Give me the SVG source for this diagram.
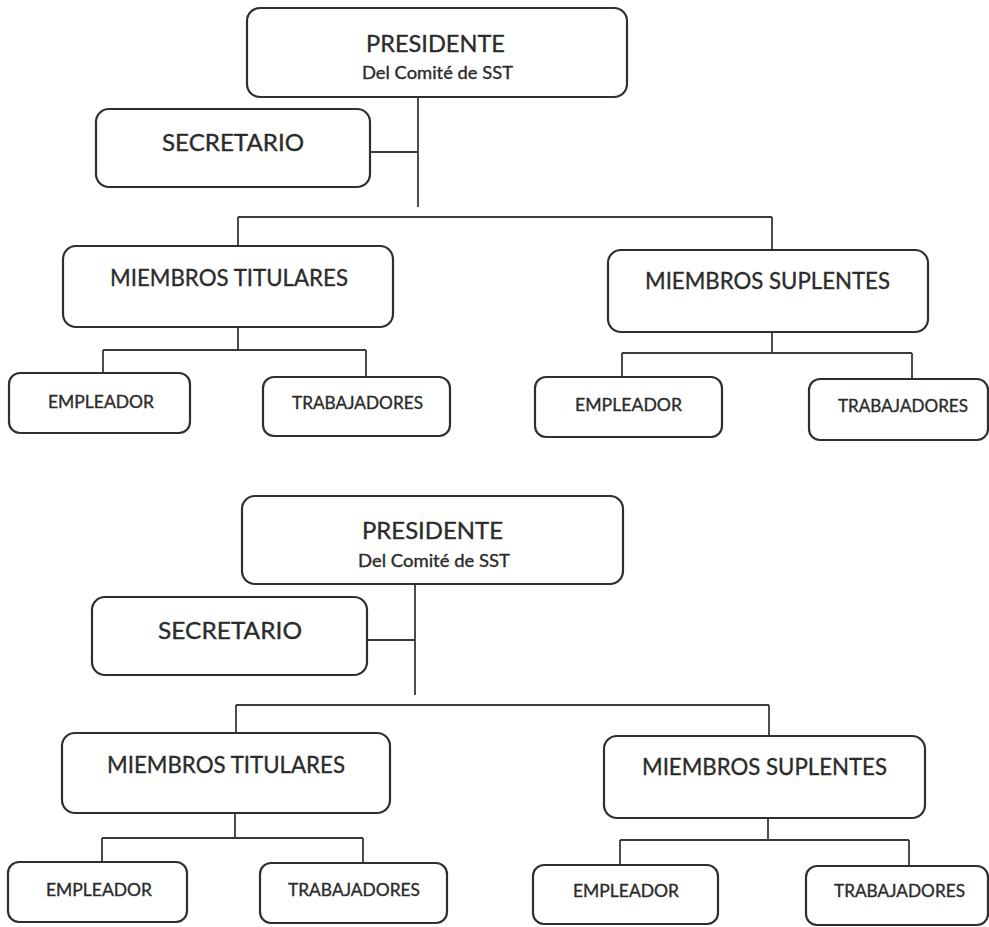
<svg xmlns="http://www.w3.org/2000/svg" width="989" height="927" viewBox="0 0 989 927">
<style>
.box{fill:#ffffff;stroke:#2f2f2f;stroke-width:2.2}
.ln{fill:none;stroke:#3a3a3a;stroke-width:1.8}
text{font-family:Lato,"Open Sans","Liberation Sans",sans-serif;fill:#2b2b2b;stroke:#2b2b2b;stroke-width:0.35;text-anchor:middle}
.big{font-size:24px}
.mid{font-size:23px}
.sm{font-size:17.5px}
</style>
<rect width="989" height="927" fill="#ffffff"/>

<g id="connectors-top">
<path class="ln" d="M370 152H418M418 97V207M238 217H772M238 217V246M772 217V250M238 327V350M103 350H366M103 350V373M366 350V377M772 332V353M622 353H912M622 353V377M912 353V379"/>
</g>
<g id="connectors-bottom">
<path class="ln" d="M367 640H415M415 584V695M236 705H769M236 705V733M769 705V736M235 813V838M102 838H363M102 838V862M363 838V863M768 818V840M620 840H909M620 840V865M909 840V866"/>
</g>

<g id="presidente-1"><rect class="box" x="247" y="8" width="380" height="89" rx="13"/>
<text class="big" x="435.5" y="52" textLength="139" lengthAdjust="spacingAndGlyphs">PRESIDENTE</text>
<text class="sm" x="437.5" y="79" textLength="151" lengthAdjust="spacingAndGlyphs">Del Comité de SST</text></g>
<g id="secretario-1"><rect class="box" x="96" y="109" width="274" height="78" rx="13"/>
<text class="mid" x="233" y="151" textLength="142" lengthAdjust="spacingAndGlyphs">SECRETARIO</text></g>
<g id="titulares-1"><rect class="box" x="63" y="246" width="330" height="81" rx="13"/>
<text class="big" x="229" y="286" textLength="238" lengthAdjust="spacingAndGlyphs">MIEMBROS TITULARES</text></g>
<g id="suplentes-1"><rect class="box" x="608" y="250" width="320" height="82" rx="13"/>
<text class="big" x="767.5" y="289" textLength="245" lengthAdjust="spacingAndGlyphs">MIEMBROS SUPLENTES</text></g>
<g id="empleador-t1"><rect class="box" x="9" y="373" width="181" height="60" rx="11"/>
<text class="sm" x="101" y="408" textLength="106" lengthAdjust="spacingAndGlyphs">EMPLEADOR</text></g>
<g id="trabajadores-t1"><rect class="box" x="263" y="377" width="187" height="59" rx="11"/>
<text class="sm" x="357.5" y="409" textLength="131" lengthAdjust="spacingAndGlyphs">TRABAJADORES</text></g>
<g id="empleador-s1"><rect class="box" x="535" y="377" width="187" height="60" rx="11"/>
<text class="sm" x="628.5" y="411" textLength="107" lengthAdjust="spacingAndGlyphs">EMPLEADOR</text></g>
<g id="trabajadores-s1"><rect class="box" x="809" y="379" width="179" height="61" rx="11"/>
<text class="sm" x="903" y="412" textLength="130" lengthAdjust="spacingAndGlyphs">TRABAJADORES</text></g>

<g id="presidente-2"><rect class="box" x="242" y="496" width="381" height="88" rx="13"/>
<text class="big" x="432.5" y="539" textLength="141" lengthAdjust="spacingAndGlyphs">PRESIDENTE</text>
<text class="sm" x="434" y="567" textLength="152" lengthAdjust="spacingAndGlyphs">Del Comité de SST</text></g>
<g id="secretario-2"><rect class="box" x="92" y="597" width="275" height="78" rx="13"/>
<text class="mid" x="230" y="639" textLength="144" lengthAdjust="spacingAndGlyphs">SECRETARIO</text></g>
<g id="titulares-2"><rect class="box" x="62" y="733" width="328" height="80" rx="13"/>
<text class="big" x="226" y="773" textLength="238" lengthAdjust="spacingAndGlyphs">MIEMBROS TITULARES</text></g>
<g id="suplentes-2"><rect class="box" x="604" y="736" width="321" height="82" rx="13"/>
<text class="big" x="764.5" y="775" textLength="245" lengthAdjust="spacingAndGlyphs">MIEMBROS SUPLENTES</text></g>
<g id="empleador-t2"><rect class="box" x="8" y="862" width="179" height="60" rx="11"/>
<text class="sm" x="99" y="896" textLength="106" lengthAdjust="spacingAndGlyphs">EMPLEADOR</text></g>
<g id="trabajadores-t2"><rect class="box" x="260" y="863" width="187" height="60" rx="11"/>
<text class="sm" x="354" y="896" textLength="132" lengthAdjust="spacingAndGlyphs">TRABAJADORES</text></g>
<g id="empleador-s2"><rect class="box" x="533" y="865" width="185" height="59" rx="11"/>
<text class="sm" x="626" y="897" textLength="106" lengthAdjust="spacingAndGlyphs">EMPLEADOR</text></g>
<g id="trabajadores-s2"><rect class="box" x="806" y="866" width="182" height="59" rx="11"/>
<text class="sm" x="899.5" y="897" textLength="131" lengthAdjust="spacingAndGlyphs">TRABAJADORES</text></g>
</svg>
